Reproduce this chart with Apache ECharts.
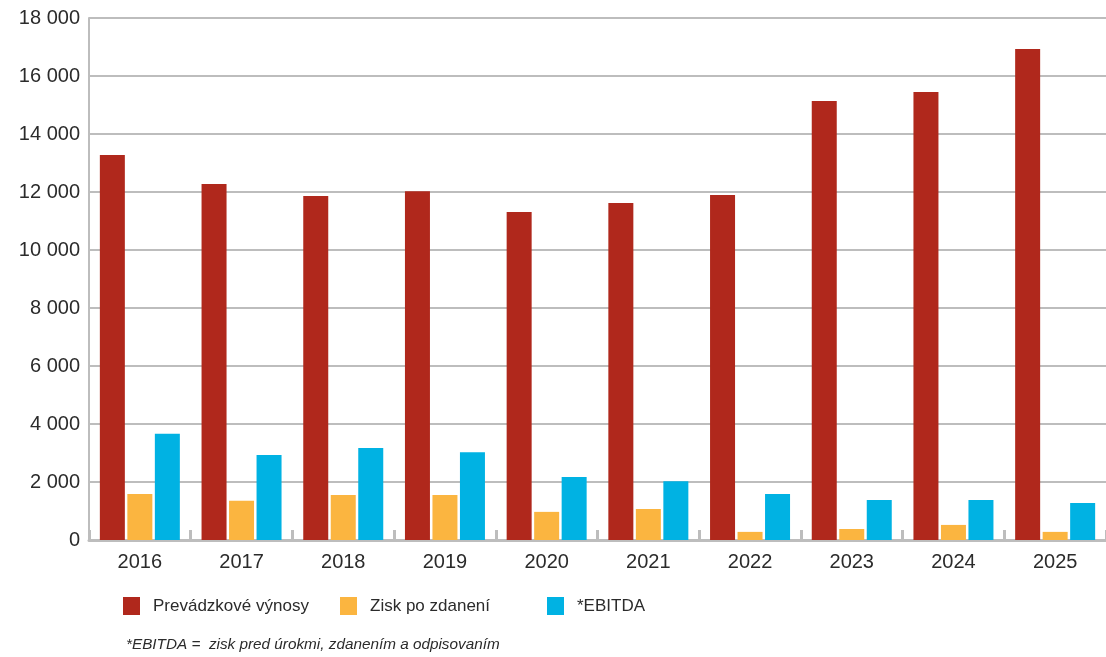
<!DOCTYPE html>
<html>
<head>
<meta charset="utf-8">
<script src="https://cdn.jsdelivr.net/npm/echarts@6/dist/echarts.min.js"></script>
<style>
  html, body { margin: 0; padding: 0; background: #fff; }
  #chart { width: 1106px; height: 657px; }
</style>
</head>
<body>
<div id="chart"></div>
<script>
// roky
const years = ['2016', '2017', '2018', '2019', '2020', '2021', '2022', '2023', '2024', '2025'];

// hodnoty odčítané z grafu
const vynosy = [13280, 12280, 11860, 12030, 11310, 11620, 11900, 15140, 15450, 16930];
const zisk = [1590, 1350, 1550, 1550, 970, 1070, 280, 380, 520, 280];
const ebitda = [3660, 2930, 3170, 3030, 2170, 2030, 1590, 1380, 1380, 1280];

const seriesNames = ['Prevádzkové výnosy', 'Zisk po zdanení', '*EBITDA'];
const colors = ['#B0281C', '#FBB540', '#00B2E3'];

const gridColor = '#bdbdbd';
const textColor = '#2b2b2b';

const chart = echarts.init(document.getElementById('chart'), null, { renderer: 'canvas' });

// formát "18 000"
const fmt = (v) => String(v).replace(/\B(?=(\d{3})+(?!\d))/g, ' ');

const legendAt = (name, left) => ({
  data: [name],
  left: left,
  top: 597,
  padding: 0,
  itemWidth: 17,
  itemHeight: 18,
  itemGap: 0,
  icon: 'rect',
  textStyle: {
    fontFamily: 'Liberation Sans',
    fontSize: 17,
    color: textColor,
    padding: [0, 0, 0, 8]
  }
});

chart.setOption({
  animation: false,
  color: colors,
  title: {
    text: '*EBITDA =  zisk pred úrokmi, zdanením a odpisovaním',
    left: 126,
    top: 637,
    padding: 0,
    textStyle: {
      fontFamily: 'Liberation Sans',
      fontSize: 15.3,
      fontStyle: 'italic',
      fontWeight: 'normal',
      color: textColor
    }
  },
  legend: [
    legendAt(seriesNames[0], 123),
    legendAt(seriesNames[1], 340),
    legendAt(seriesNames[2], 547)
  ],
  grid: {
    left: 89,
    right: -6,
    top: 18,
    bottom: 117,
    containLabel: false
  },
  xAxis: {
    type: 'category',
    data: years,
    axisLine: { show: true, lineStyle: { color: gridColor, width: 3 } },
    axisTick: {
      show: true,
      inside: true,
      length: 10,
      alignWithLabel: false,
      lineStyle: { color: gridColor, width: 3 }
    },
    axisLabel: {
      margin: 12,
      fontFamily: 'Liberation Sans',
      fontSize: 20,
      color: textColor
    },
    splitLine: { show: false }
  },
  yAxis: {
    type: 'value',
    min: 0,
    max: 18000,
    interval: 2000,
    axisLine: { show: true, lineStyle: { color: gridColor, width: 2 } },
    axisTick: { show: false },
    axisLabel: {
      margin: 9,
      fontFamily: 'Liberation Sans',
      fontSize: 20,
      color: textColor,
      formatter: fmt
    },
    splitLine: { show: true, lineStyle: { color: gridColor, width: 2 } }
  },
  series: [
    { name: seriesNames[0], type: 'bar', data: vynosy, barWidth: 25, barGap: '10%' },
    { name: seriesNames[1], type: 'bar', data: zisk, barWidth: 25, barGap: '10%' },
    { name: seriesNames[2], type: 'bar', data: ebitda, barWidth: 25, barGap: '10%' }
  ]
});
</script>
</body>
</html>
